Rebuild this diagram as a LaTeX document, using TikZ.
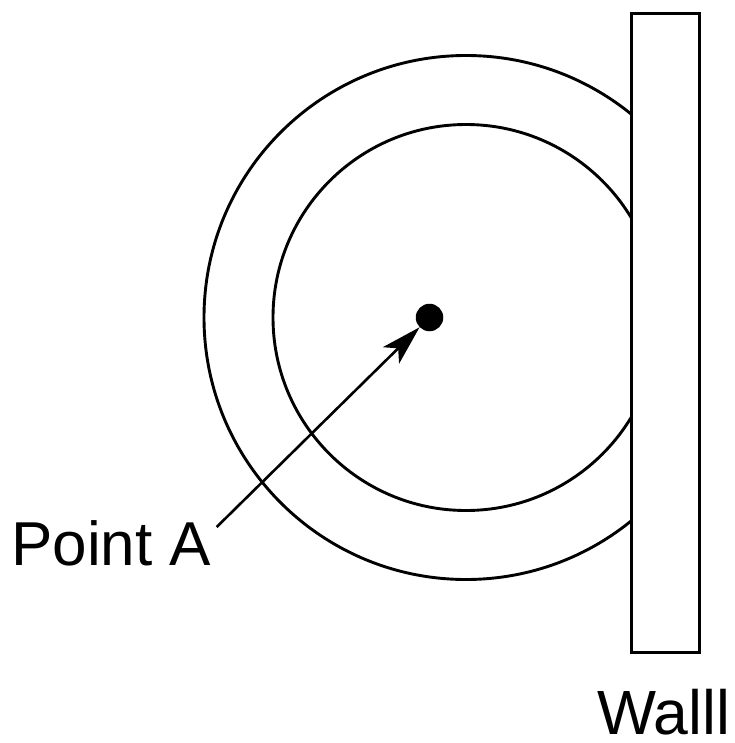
\documentclass[tikz,border=0pt]{standalone}
\usepackage{fontspec}
\setmainfont{Liberation Sans}
\usetikzlibrary{arrows.meta}
\begin{document}
\begin{tikzpicture}[x=1pt,y=-1pt,
  ln/.style={line width=2.9pt},
  arr/.style={line width=2.6pt,-{Stealth[length=40pt,width=23pt,inset=10pt]}},
  lbl/.style={inner sep=0pt,anchor=base west}]
\useasboundingbox (0,0) rectangle (734,743);
\begin{scope}
  \clip (0,0) rectangle (630,743);
  \draw[ln] (466,317.5) circle[radius=262];
  \draw[ln] (466,317.5) circle[radius=193];
\end{scope}
\node[draw,ln,minimum width=68.3pt,minimum height=638.5pt,inner sep=0pt,anchor=north west] (wall) at (630,12.5) {};
\node[circle,fill=black,inner sep=0pt,minimum size=27.5pt] (A) at (429.5,317.5) {};
\coordinate (s) at (216.7,527);
\draw[arr] (s) -- (A);
\node[lbl,font=\fontsize{62}{70}\selectfont] (pa) at (11,565) {Point A};
\node[lbl,font=\fontsize{62.5}{70}\selectfont] (wl) at (597,734) {Walll};
\end{tikzpicture}
\end{document}
